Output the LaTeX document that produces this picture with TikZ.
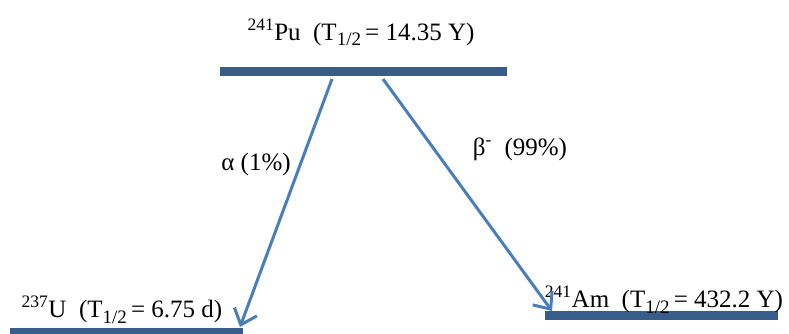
\documentclass[tikz,border=0pt]{standalone}
\usepackage{fontspec}
\setmainfont{Liberation Serif}
\usepackage{xcolor}
\usetikzlibrary{arrows.meta}
\definecolor{levelblue}{RGB}{56,93,138}
\definecolor{arrowblue}{RGB}{74,126,187}

\newcommand{\halflife}{T\raisebox{-6pt}{\fontsize{19}{21}\selectfont 1/2}}

\tikzset{
    level/.style={fill=levelblue, rectangle, inner sep=0pt, minimum height=9pt},
    decay/.style={draw=arrowblue, line width=3pt,
        -{Straight Barb[length=14pt, width=24pt, line width=3pt]}},
    lab/.style={anchor=base, inner sep=0pt, font=\fontsize{25}{29}\selectfont}
}

\begin{document}
\begin{tikzpicture}[x=1pt, y=1pt]
\useasboundingbox (0,0) rectangle (789,333);

% energy levels
\node[level, minimum width=287pt] (pu) at (363.5,261.5) {};
\node[level, minimum width=233pt] (u)  at (126.5,0.5) {};
\node[level, minimum width=233pt] (am) at (661.5,17.5) {};

% labels
\node[lab] (pu-lab) at (361,293) {\textsuperscript{241}Pu\ \ (\halflife\,= 14.35 Y)};
\node[lab] (u-lab)  at (122,16)  {\textsuperscript{237}U\ \ (\halflife\,= 6.75 d)};
\node[lab] (am-lab) at (664,26)  {\textsuperscript{241}Am\ \ (\halflife\,= 432.2 Y)};

% decay paths
\coordinate (pu-a) at (332,254);
\coordinate (pu-b) at (383,254);
\coordinate (u-in) at (240,6);
\coordinate (am-in) at (552,22);
\draw[decay] (pu-a) -- (u-in);
\draw[decay] (pu-b) -- (am-in);

\node[lab] (alpha) at (256,163) {α (1\%)};
\node[lab] (beta)  at (520,178) {β\textsuperscript{-}\ \ (99\%)};
\end{tikzpicture}
\end{document}
